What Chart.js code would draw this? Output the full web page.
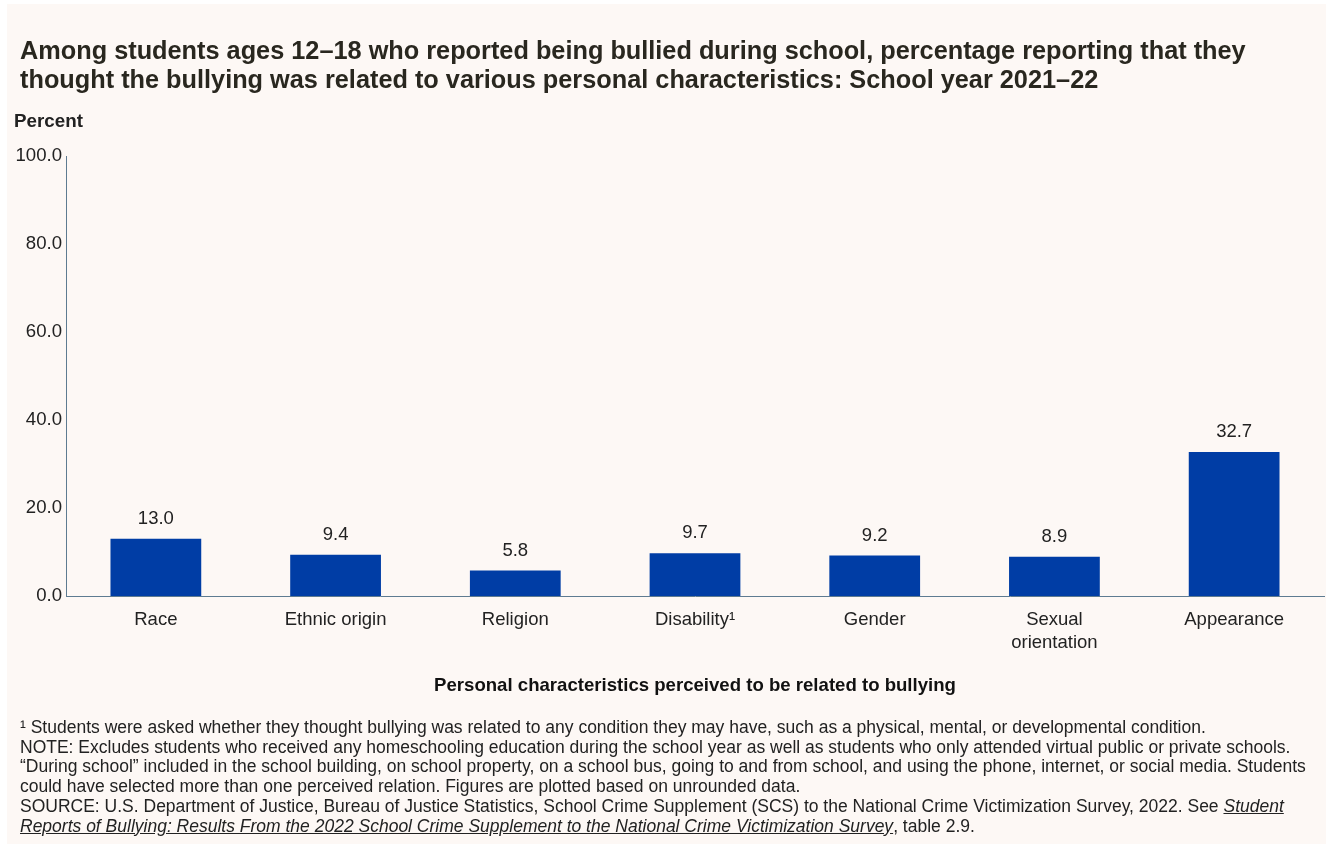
<!DOCTYPE html>
<html>
<head>
<meta charset="utf-8">
<script src="https://cdn.jsdelivr.net/npm/chart.js@4.4.1/dist/chart.umd.min.js"></script>
<style>
  html, body { margin: 0; padding: 0; background: #ffffff; }
  body { width: 1326px; height: 846px; position: relative; overflow: hidden;
         font-family: "Liberation Sans", Arial, sans-serif; color: #222; }
  #panel { position: absolute; left: 7px; top: 4px; right: 0; bottom: 2px; background: #fdf8f5; }
  #title { position: absolute; left: 20px; top: 36px; font-size: 25.3px; font-weight: bold;
           line-height: 28.5px; color: #29271f; white-space: nowrap; }
  #ylab { position: absolute; left: 14px; top: 110px; font-size: 18.8px; font-weight: bold; }
  #notes { position: absolute; left: 20px; top: 718px; font-size: 17.5px; line-height: 19.7px; white-space: nowrap; }
  #notes i { text-decoration: underline; }
  .wrap { position: absolute; left: 0; top: 0; width: 1326px; height: 846px; }
</style>
</head>
<body>
<div id="panel"></div>
<div class="wrap"><canvas id="chart"></canvas></div>
<div id="title">Among students ages 12–18 who reported being bullied during school, percentage reporting that they<br>thought the bullying was related to various personal characteristics: School year 2021–22</div>
<div id="ylab">Percent</div>
<div id="notes">
¹ Students were asked whether they thought bullying was related to any condition they may have, such as a physical, mental, or developmental condition.<br>
NOTE: Excludes students who received any homeschooling education during the school year as well as students who only attended virtual public or private schools.<br>
“During school” included in the school building, on school property, on a school bus, going to and from school, and using the phone, internet, or social media. Students<br>
could have selected more than one perceived relation. Figures are plotted based on unrounded data.<br>
SOURCE: U.S. Department of Justice, Bureau of Justice Statistics, School Crime Supplement (SCS) to the National Crime Victimization Survey, 2022. See <i>Student<br>
Reports of Bullying: Results From the 2022 School Crime Supplement to the National Crime Victimization Survey</i>, table 2.9.
</div>
<script>
const categories = ['Race', 'Ethnic origin', 'Religion', 'Disability¹', 'Gender', ['Sexual', 'orientation'], 'Appearance'];
const percentValues = [13.0, 9.4, 5.8, 9.7, 9.2, 8.9, 32.7];
const yTicks = [0, 20, 40, 60, 80, 100];

const valueLabels = {
  id: 'valueLabels',
  afterDatasetsDraw(chart) {
    const ctx = chart.ctx;
    const meta = chart.getDatasetMeta(0);
    ctx.save();
    ctx.font = '18.5px "Liberation Sans", Arial, sans-serif';
    ctx.fillStyle = '#222';
    ctx.textAlign = 'center';
    ctx.textBaseline = 'middle';
    meta.data.forEach((bar, i) => {
      ctx.fillText(percentValues[i].toFixed(1), bar.x, bar.y - 20);
    });
    ctx.restore();
  }
};

new Chart(document.getElementById('chart'), {
  type: 'bar',
  data: {
    labels: categories,
    datasets: [{
      data: percentValues,
      backgroundColor: '#003da5',
      barPercentage: 0.505,
      categoryPercentage: 1.0
    }]
  },
  options: {
    responsive: true,
    maintainAspectRatio: false,
    animation: false,
    layout: { padding: { top: 156, left: 0, right: 2, bottom: 140 } },
    plugins: {
      legend: { display: false },
      tooltip: { enabled: false }
    },
    scales: {
      x: {
        grid: { display: false, drawTicks: false },
        border: { display: true, color: '#5e7b91', width: 1 },
        ticks: {
          color: '#222',
          padding: 12,
          font: { family: '"Liberation Sans", Arial, sans-serif', size: 18.5, lineHeight: 1.24 },
          maxRotation: 0,
          autoSkip: false
        },
        title: {
          display: true,
          text: 'Personal characteristics perceived to be related to bullying',
          color: '#111',
          font: { family: '"Liberation Sans", Arial, sans-serif', size: 18.6, weight: 'bold' },
          padding: { top: 0, bottom: 9 }
        },
        afterFit(scale) { scale.height = 110; }
      },
      y: {
        min: 0,
        max: 100,
        grid: { display: false, drawTicks: false },
        border: { display: true, color: '#5e7b91', width: 1 },
        afterBuildTicks(scale) { scale.ticks = yTicks.map(v => ({ value: v })); },
        ticks: {
          color: '#222',
          padding: 4,
          font: { family: '"Liberation Sans", Arial, sans-serif', size: 18.6 },
          callback: v => v.toFixed(1)
        },
        afterFit(scale) { scale.width = 66; }
      }
    }
  },
  plugins: [valueLabels]
});
</script>
</body>
</html>
